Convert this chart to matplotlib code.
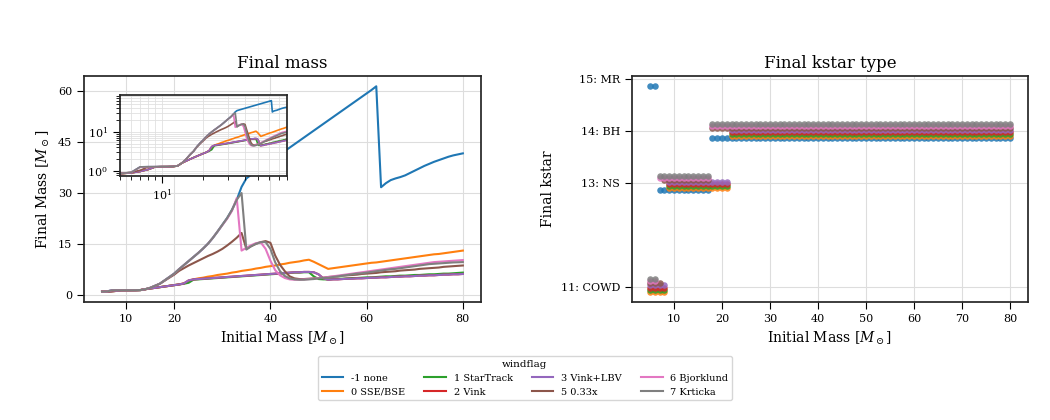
import matplotlib
import numpy as np

matplotlib.use("Agg")
import matplotlib.pyplot as plt

plt.rcParams.update({
    "font.family": "DejaVu Serif",
    "mathtext.fontset": "dejavuserif",
    "axes.edgecolor": "#262626",
    "axes.linewidth": 1.25,
    "xtick.direction": "out",
    "ytick.direction": "out",
    "xtick.major.size": 5,
    "ytick.major.size": 5,
    "xtick.labelsize": 8,
    "ytick.labelsize": 8,
    "grid.color": "#dddddd",
    "grid.linewidth": 0.8,
})

masses = np.arange(5, 81)

flags = ["-1 none", "0 SSE/BSE", "1 StarTrack", "2 Vink",
         "3 Vink+LBV", "5 0.33x", "6 Bjorklund", "7 Krticka"]

# final masses, m = 5 ... 80 (15 values per row)
m_none = [0.87, 0.92, 1.28, 1.29, 1.29, 1.3, 1.3, 1.31, 1.35, 1.6, 2.0, 2.6, 3.2, 4.2, 5.2,
          6.2, 7.5, 8.7, 9.9, 11.1, 12.3, 13.6, 15.0, 16.7, 18.6, 20.6, 22.6, 25.0, 28.0, 31.8,
          34.3, 35.4, 36.4, 37.4, 38.4, 39.4, 40.4, 41.4, 42.4, 43.4, 44.4, 45.4, 46.4, 47.4, 48.4,
          49.4, 50.4, 51.4, 52.4, 53.4, 54.4, 55.4, 56.4, 57.4, 58.4, 59.4, 60.4, 61.5, 31.7, 32.9,
          33.8, 34.3, 34.7, 35.2, 35.9, 36.6, 37.3, 38.0, 38.6, 39.2, 39.7, 40.2, 40.7, 41.1, 41.4,
          41.7]
m_sse = [0.86, 0.9, 0.98, 1.1, 1.28, 1.29, 1.29, 1.3, 1.35, 1.6, 1.8, 2.0, 2.2, 2.4, 2.6,
         2.8, 3.0, 3.3, 3.9, 4.5, 4.8, 5.0, 5.3, 5.5, 5.8, 6.0, 6.2, 6.5, 6.7, 7.0,
         7.2, 7.4, 7.7, 7.9, 8.2, 8.4, 8.6, 8.9, 9.1, 9.4, 9.6, 9.8, 10.1, 10.3, 9.7,
         9.0, 8.3, 7.6, 7.8, 8.0, 8.2, 8.4, 8.6, 8.8, 9.0, 9.2, 9.4, 9.5, 9.7, 9.9,
         10.1, 10.3, 10.5, 10.7, 10.9, 11.1, 11.3, 11.5, 11.7, 11.9, 12.0, 12.2, 12.4, 12.6, 12.8,
         13.0]
m_startrack = [0.86, 0.9, 0.98, 1.1, 1.28, 1.29, 1.29, 1.3, 1.35, 1.6, 1.8, 2.0, 2.2, 2.4, 2.6,
               2.8, 3.0, 3.2, 3.5, 4.4, 4.5, 4.6, 4.7, 4.8, 4.9, 5.0, 5.1, 5.2, 5.3, 5.4,
               5.5, 5.6, 5.7, 5.8, 5.9, 6.0, 6.1, 6.2, 6.3, 6.4, 6.5, 6.5, 6.6, 6.6, 5.4,
               4.6, 4.5, 4.5, 4.6, 4.7, 4.7, 4.8, 4.9, 4.9, 5.0, 5.1, 5.1, 5.2, 5.3, 5.4,
               5.4, 5.5, 5.6, 5.6, 5.7, 5.8, 5.8, 5.9, 6.0, 6.0, 6.1, 6.2, 6.2, 6.3, 6.4,
               6.5]
m_vink = [0.86, 0.9, 0.98, 1.1, 1.28, 1.29, 1.29, 1.3, 1.35, 1.6, 1.8, 2.0, 2.2, 2.4, 2.6,
          2.8, 3.0, 3.3, 4.2, 4.5, 4.6, 4.7, 4.8, 4.9, 5.0, 5.1, 5.2, 5.3, 5.4, 5.5,
          5.6, 5.7, 5.8, 5.9, 6.0, 6.1, 6.2, 6.3, 6.4, 6.5, 6.6, 6.6, 6.7, 6.7, 6.6,
          6.0, 4.8, 4.4, 4.5, 4.5, 4.6, 4.7, 4.7, 4.8, 4.8, 4.9, 5.0, 5.0, 5.1, 5.1,
          5.2, 5.3, 5.3, 5.4, 5.4, 5.5, 5.6, 5.6, 5.7, 5.7, 5.8, 5.9, 5.9, 6.0, 6.0,
          6.1]
m_vinklbv = [0.86, 0.9, 0.98, 1.1, 1.28, 1.29, 1.29, 1.3, 1.35, 1.6, 1.8, 2.0, 2.2, 2.4, 2.6,
             2.8, 3.0, 3.3, 4.2, 4.5, 4.6, 4.7, 4.8, 4.9, 5.0, 5.1, 5.2, 5.3, 5.4, 5.5,
             5.6, 5.7, 5.8, 5.9, 6.0, 6.1, 6.2, 6.3, 6.4, 6.5, 6.6, 6.6, 6.7, 6.7, 6.6,
             6.0, 4.8, 4.4, 4.5, 4.5, 4.6, 4.7, 4.7, 4.8, 4.8, 4.9, 5.0, 5.0, 5.1, 5.1,
             5.2, 5.3, 5.3, 5.4, 5.4, 5.5, 5.6, 5.6, 5.7, 5.7, 5.8, 5.9, 5.9, 6.0, 6.0,
             6.1]
m_033 = [0.87, 0.93, 1.05, 1.28, 1.29, 1.29, 1.3, 1.31, 1.35, 1.6, 2.0, 2.6, 3.2, 4.1, 5.0,
         5.9, 7.0, 7.8, 8.6, 9.3, 10.0, 10.7, 11.4, 12.0, 12.7, 13.5, 14.5, 15.6, 16.8, 18.2,
         13.5, 14.3, 15.0, 15.5, 15.8, 15.3, 11.5, 8.8, 6.9, 5.4, 4.8, 4.6, 4.6, 4.7, 4.8,
         4.9, 5.0, 5.2, 5.3, 5.4, 5.6, 5.7, 5.8, 5.9, 6.1, 6.2, 6.3, 6.4, 6.6, 6.7,
         6.8, 6.9, 7.1, 7.2, 7.3, 7.4, 7.6, 7.7, 7.8, 7.9, 8.0, 8.2, 8.3, 8.4, 8.5,
         8.6]
m_bjork = [0.87, 0.92, 1.27, 1.29, 1.29, 1.3, 1.3, 1.31, 1.35, 1.6, 2.0, 2.6, 3.2, 4.2, 5.2,
           6.2, 7.5, 8.7, 9.9, 11.1, 12.3, 13.6, 15.0, 16.7, 18.6, 20.5, 22.4, 24.7, 28.5, 13.0,
           13.8, 14.6, 15.2, 15.4, 13.5, 10.0, 7.2, 5.7, 4.9, 4.5, 4.4, 4.4, 4.5, 4.6, 4.7,
           4.9, 5.0, 5.2, 5.4, 5.6, 5.8, 6.0, 6.2, 6.4, 6.6, 6.8, 7.0, 7.2, 7.4, 7.6,
           7.8, 8.0, 8.2, 8.4, 8.6, 8.8, 9.0, 9.2, 9.4, 9.6, 9.7, 9.8, 9.9, 10.0, 10.1,
           10.2]
m_krticka = [0.87, 0.92, 1.28, 1.29, 1.29, 1.3, 1.3, 1.31, 1.35, 1.6, 2.0, 2.6, 3.2, 4.2, 5.2,
             6.2, 7.5, 8.7, 9.9, 11.1, 12.3, 13.6, 15.0, 16.7, 18.6, 20.6, 22.6, 25.0, 28.0, 30.0,
             13.3, 14.3, 15.0, 15.5, 15.5, 13.5, 9.5, 6.9, 5.5, 4.8, 4.5, 4.4, 4.4, 4.5, 4.6,
             4.8, 4.9, 5.0, 5.2, 5.4, 5.6, 5.8, 6.0, 6.2, 6.3, 6.5, 6.7, 6.9, 7.1, 7.3,
             7.5, 7.6, 7.8, 8.0, 8.2, 8.4, 8.6, 8.8, 9.0, 9.1, 9.2, 9.3, 9.4, 9.5, 9.55,
             9.6]
final_mass = [m_none, m_sse, m_startrack, m_vink, m_vinklbv, m_033, m_bjork, m_krticka]

# final kstar type per flag, m = 5 ... 80
kstar_none = [15] * 2 + [13] * 11 + [14] * 63
kstar_low = [11] * 4 + [13] * 13 + [14] * 59
kstar_033 = [11] * 3 + [13] * 10 + [14] * 63
kstar_high = [11] * 2 + [13] * 11 + [14] * 63
kstar = [kstar_none, kstar_low, kstar_low, kstar_low, kstar_low, kstar_033, kstar_high, kstar_high]
kstar_ticks = [11, 13, 14, 15]
kstar_names = ["11: COWD", "13: NS", "14: BH", "15: MR"]

colors = plt.rcParams["axes.prop_cycle"].by_key()["color"]

fig = plt.figure(figsize=(10.5, 4.2), dpi=100)
ax1 = fig.add_axes([0.080, 0.281, 0.378, 0.538])
ax2 = fig.add_axes([0.602, 0.281, 0.377, 0.538])
ins = ax1.inset_axes([0.0907, 0.5575, 0.42, 0.358])

lines = []
for i, lab in enumerate(flags):
    ln, = ax1.plot(masses, final_mass[i], color=colors[i], lw=1.5, label=lab)
    lines.append(ln)
    ins.plot(masses, final_mass[i], color=colors[i], lw=1.2)
    off = (i - 3.5) * 0.04  # small vertical shift per windflag
    ax2.scatter(masses, np.array(kstar[i]) + off, s=22, color=colors[i], alpha=0.85,
                linewidths=0, zorder=3)

ax1.set_xticks([10, 20, 40, 60, 80])
ax1.set_yticks([0, 15, 30, 45, 60])
ax1.grid(True)
ax1.set_xlabel(r"Initial Mass [$M_\odot$]", fontsize=10)
ax1.set_ylabel(r"Final Mass [$M_\odot$]", fontsize=10)
ax1.set_title("Final mass", fontsize=12)

ins.set_xscale("log")
ins.set_yscale("log")
ins.set_xlim(5, 80)
ins.set_ylim(0.75, 85)
ins.grid(True, which="both", color="#e0e0e0", lw=0.6)
ins.tick_params(which="major", length=5, labelsize=8)
ins.tick_params(which="minor", length=3)
ins.set_facecolor("white")

ax2.set_xticks(range(10, 81, 10))
ax2.set_yticks(kstar_ticks)
ax2.set_yticklabels(kstar_names)
ax2.grid(True)
ax2.set_xlabel(r"Initial Mass [$M_\odot$]", fontsize=10)
ax2.set_ylabel("Final kstar", fontsize=10)
ax2.set_title("Final kstar type", fontsize=12)

fig.legend(handles=lines, loc="lower center", bbox_to_anchor=(0.5, 0.035), ncol=4,
           title="windflag", fontsize=7, title_fontsize=7.5, columnspacing=2.0,
           handlelength=2.2, frameon=True)

fig.savefig("out.png", dpi=100)
